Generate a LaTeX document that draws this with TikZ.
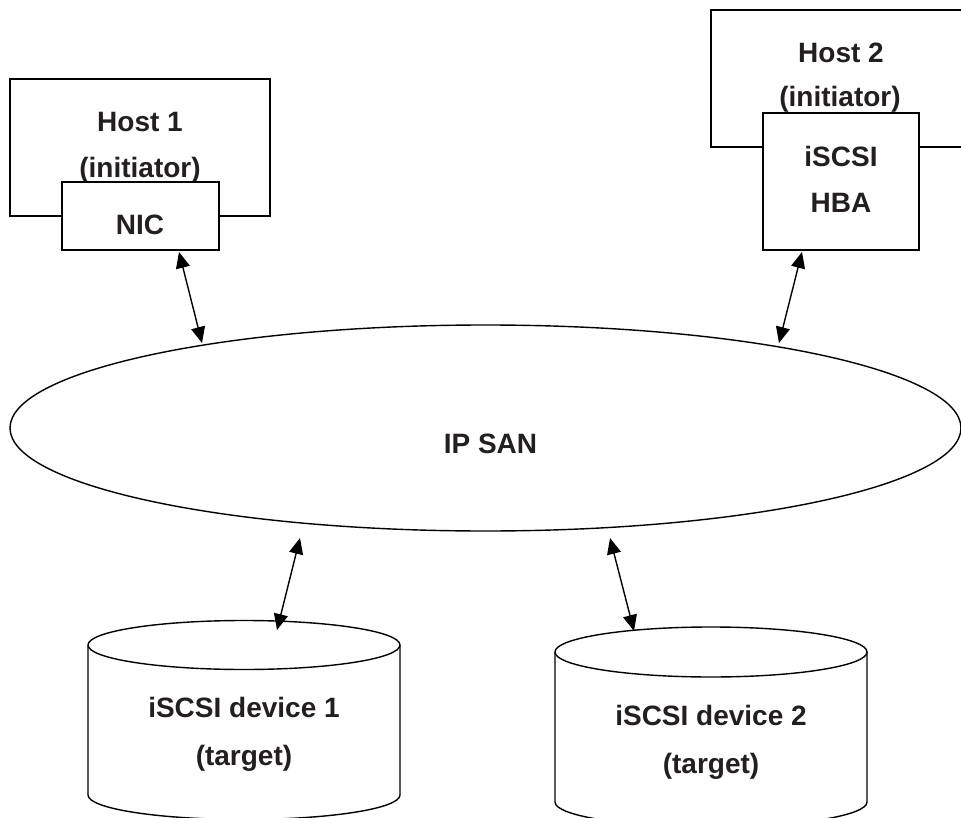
\documentclass[tikz,border=0pt]{standalone}
\usepackage{fontspec}
\setmainfont{Liberation Sans}
\usetikzlibrary{arrows.meta,shapes.geometric}
\definecolor{txt}{HTML}{231F20}
\tikzset{
  lbl/.style={anchor=base,text=txt,font=\fontsize{28}{33}\selectfont\bfseries,inner sep=0pt},
  ln/.style={draw=black,line width=1.4pt},
  boxw/.style={ln,fill=white},
  dblarrow/.style={line width=1.4pt,{Triangle[length=16pt,width=14pt]}-{Triangle[length=16pt,width=14pt]}},
}
\begin{document}
\begin{tikzpicture}[x=1pt,y=-1pt]
\useasboundingbox (0,0) rectangle (961,818);
% Host 1
\draw[ln] (10,79) rectangle (270,216);
\node[lbl] (h1) at (140,132) {Host 1};
\node[lbl] (h1i) at (140,178) {(initiator)};
\draw[boxw] (62,182) rectangle (219,250);
\node[lbl] (nic) at (140,235) {NIC};
% Host 2
\draw[ln] (975,10) -- (711,10) -- (711,147) -- (975,147);
\node[lbl] (h2) at (841,63) {Host 2};
\node[lbl] (h2i) at (840,107) {(initiator)};
\draw[boxw] (763,113) rectangle (919,250);
\node[lbl] (hba1) at (841,167) {iSCSI};
\node[lbl] (hba2) at (841,213) {HBA};
% IP SAN
\node[ellipse,ln,minimum width=951pt,minimum height=206pt,inner sep=0pt] (san) at (485.5,428) {};
\node[lbl] (santxt) at (490.5,453) {IP SAN};
% Device 1
\draw[ln] (88,645) -- (88,795) arc[start angle=180,end angle=360,x radius=156pt,y radius=24.5pt] -- (400,645);
\draw[ln] (244,645) ellipse [x radius=156pt,y radius=24.5pt];
\node[lbl] (d1) at (244,717) {iSCSI device 1};
\node[lbl] (d1t) at (244,765) {(target)};
% Device 2
\draw[ln] (555,652) -- (555,802) arc[start angle=180,end angle=360,x radius=156pt,y radius=25pt] -- (867,652);
\draw[ln] (711,652) ellipse [x radius=156pt,y radius=25pt];
\node[lbl] (d2) at (711,725) {iSCSI device 2};
\node[lbl] (d2t) at (711,773) {(target)};
% arrow end points
\coordinate (a1s) at (179,252);
\coordinate (a1e) at (202,343);
\coordinate (a2s) at (802,252);
\coordinate (a2e) at (779,343);
\coordinate (a3s) at (300,538);
\coordinate (a3e) at (277,630);
\coordinate (a4s) at (610,538);
\coordinate (a4e) at (634,631);
\draw[dblarrow] (a1s) -- (a1e);
\draw[dblarrow] (a2s) -- (a2e);
\draw[dblarrow] (a3s) -- (a3e);
\draw[dblarrow] (a4s) -- (a4e);
\end{tikzpicture}
\end{document}
